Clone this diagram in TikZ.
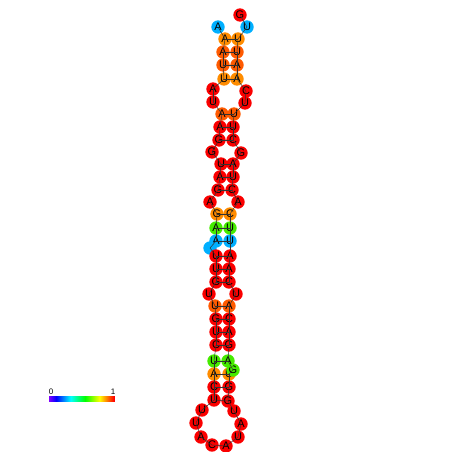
\documentclass[tikz,border=0pt]{standalone}
\usepackage{fontspec}
\setmainfont{Liberation Sans}
\definecolor{ntred}{RGB}{250,0,0}
\definecolor{ntorred}{RGB}{255,90,0}
\definecolor{ntorange}{RGB}{255,140,0}
\definecolor{ntgreen}{RGB}{70,235,0}
\definecolor{ntblue}{RGB}{0,175,255}
\begin{document}
\begin{tikzpicture}[x=1pt, y=-1pt,
    nt/.style={circle, inner sep=0pt, minimum size=13.4pt, font=\fontsize{11}{11}\selectfont},
    bb/.style={black!80, line width=0.5pt},
    bp/.style={black!80, line width=0.5pt}]
    \useasboundingbox (0,0) rectangle (452,452);
    % nucleotides, 5' end at the top left
    \foreach \i/\x/\y/\b/\c in {
        1/218/27/A/ntblue, 2/225/39/A/ntorange, 3/223/52/A/ntorred, 4/223/65/U/ntorred,
        5/224/79/U/ntorange, 6/213/89/A/ntred, 7/213/102/U/ntred, 8/222/114/A/ntorred,
        9/220/127/A/ntred, 10/219/140/G/ntred, 11/212/152/G/ntred, 12/221/164/U/ntred,
        13/220/177/A/ntred, 14/218/190/G/ntred, 15/210/202/A/ntred, 16/217/214/G/ntorange,
        17/216/228/A/ntgreen, 18/216/241/A/ntblue, 19/210/248/{}/ntblue, 20/216/256/U/ntred,
        21/216/269/U/ntred, 22/216/282/G/ntred, 23/209/294/U/ntred, 24/215/306/U/ntorred,
        25/216/319/G/ntred, 26/216/332/U/ntred, 27/216/345/C/ntred, 28/214/361/U/ntgreen,
        29/214/374/A/ntorange, 30/214/387/C/ntred, 31/214/400/U/ntred, 32/202/410/U/ntred,
        33/196/423/U/ntred, 34/201/437/A/ntred, 35/212/445/C/ntred, 36/226/446/A/ntred,
        37/238/437/U/ntred, 38/241/424/A/ntred, 39/234/411/U/ntred, 40/228/401/G/ntred,
        41/229/387/G/ntred, 42/229/374/U/ntorange, 43/233/370/G/ntgreen, 44/228/361/A/ntgreen,
        45/229/345/G/ntred, 46/229/332/A/ntred, 47/229/319/C/ntred, 48/229/306/A/ntorred,
        49/236/294/U/ntred, 50/229/282/C/ntred, 51/229/269/A/ntred, 52/230/256/A/ntred,
        53/230/241/U/ntblue, 54/230/228/U/ntgreen, 55/230/214/C/ntorange, 56/238/202/A/ntred,
        57/232/190/C/ntred, 58/233/177/U/ntred, 59/233/164/A/ntred, 60/241/153/G/ntred,
        61/233/140/C/ntred, 62/233/127/U/ntred, 63/234/114/U/ntorred, 64/245/103/U/ntred,
        65/246/91/C/ntred, 66/237/79/A/ntorange, 67/237/65/A/ntorred, 68/237/52/U/ntorred,
        69/238/39/U/ntorange, 70/247/27/U/ntblue, 71/240/15/G/ntred}
        \node[nt, fill=\c] (n\i) at (\x,\y) {\b};
    % backbone
    \foreach \i [evaluate=\i as \j using int(\i+1)] in {1,...,70}
        \draw[bb] (n\i.center) -- (n\j.center);
    % base pairs
    \foreach \p/\q in {2/69, 3/68, 4/67, 5/66, 8/63, 9/62, 10/61, 12/59, 13/58, 14/57,
        16/55, 17/54, 18/53, 20/52, 21/51, 22/50, 24/48, 25/47, 26/46, 27/45, 28/44,
        29/42, 30/41, 31/40}
        \draw[bp] (n\p.center) -- (n\q.center);
    % colour scale
    \foreach \k in {0,...,65} {
        \pgfmathsetmacro\hue{270*(1-\k/65)}
        \definecolor{barc}{Hsb}{\hue,1,1}
        \fill[barc] (49+\k,396) rectangle (50.3+\k,402);
    }
    \node[font=\fontsize{8}{8}\selectfont] (lo) at (51,391.5) {0};
    \node[font=\fontsize{8}{8}\selectfont] (hi) at (113,391.5) {1};
\end{tikzpicture}
\end{document}
